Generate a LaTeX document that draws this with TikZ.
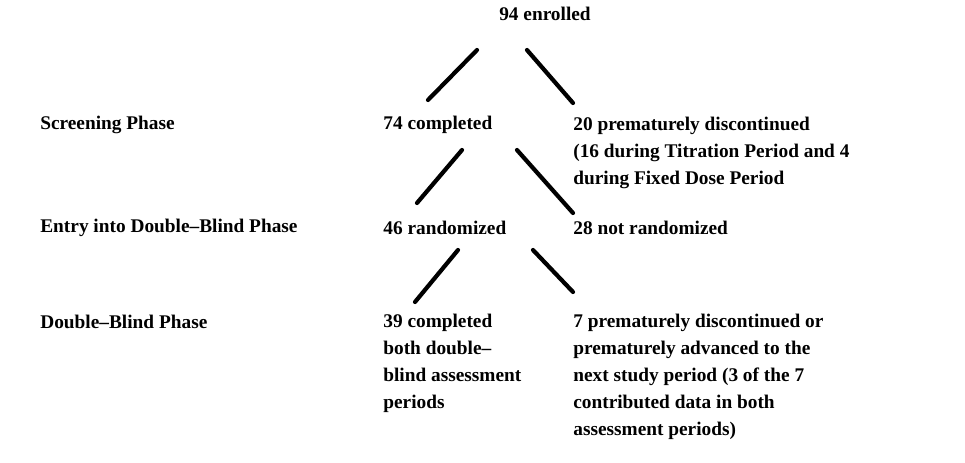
\documentclass[tikz,border=0pt]{standalone}
\usepackage{fontspec}
\setmainfont{Liberation Serif}
\begin{document}
\begin{tikzpicture}[
    x = 0.02cm, y = -0.02cm,
    every node/.style = {inner sep = 0pt, font = \bfseries\fontsize{11}{15.3}\selectfont},
    phase/.style = {anchor = west},
    tally/.style = {anchor = west},
    block/.style = {anchor = north west, align = left},
    branch/.style = {line width = 2.4pt, line cap = round}
  ]
  \useasboundingbox (0,0) rectangle (965,463);
  % phases
  \node[phase] (screen) at (40, 125) {Screening Phase};
  \node[phase] (entry)  at (40, 228) {Entry into Double--Blind Phase};
  \node[phase] (blind)  at (40, 322) {Double--Blind Phase};
  % counts
  \node        (enrolled) at (545,  14) {94 enrolled};
  \node[tally] (done74)   at (383, 125) {74 completed};
  \node[block] (drop20)   at (573, 117) {20 prematurely discontinued\\(16 during Titration Period and 4\\during Fixed Dose Period};
  \node[tally] (rand46)   at (383, 228) {46 randomized};
  \node[tally] (norand28) at (573, 228) {28 not randomized};
  \node[block] (done39)   at (383, 314) {39 completed\\both double--\\blind assessment\\periods};
  \node[block] (drop7)    at (573, 314) {7 prematurely discontinued or\\prematurely advanced to the\\next study period (3 of the 7\\contributed data in both\\assessment periods)};
  % branches
  \draw[branch] ([shift={(-68, 36)}]enrolled.center) -- ([shift={(45, -25)}]done74.west);
  \draw[branch] ([shift={(-18, 36)}]enrolled.center) -- ([shift={(0, -14)}]drop20.north west);
  \draw[branch] ([shift={(79, 25)}]done74.west)      -- ([shift={(34, -25)}]rand46.west);
  \draw[branch] ([shift={(134, 25)}]done74.west)     -- ([shift={(0, -15)}]norand28.west);
  \draw[branch] ([shift={(75, 22)}]rand46.west)      -- ([shift={(32, -12)}]done39.north west);
  \draw[branch] ([shift={(150, 22)}]rand46.west)     -- ([shift={(0, -22)}]drop7.north west);
\end{tikzpicture}
\end{document}
